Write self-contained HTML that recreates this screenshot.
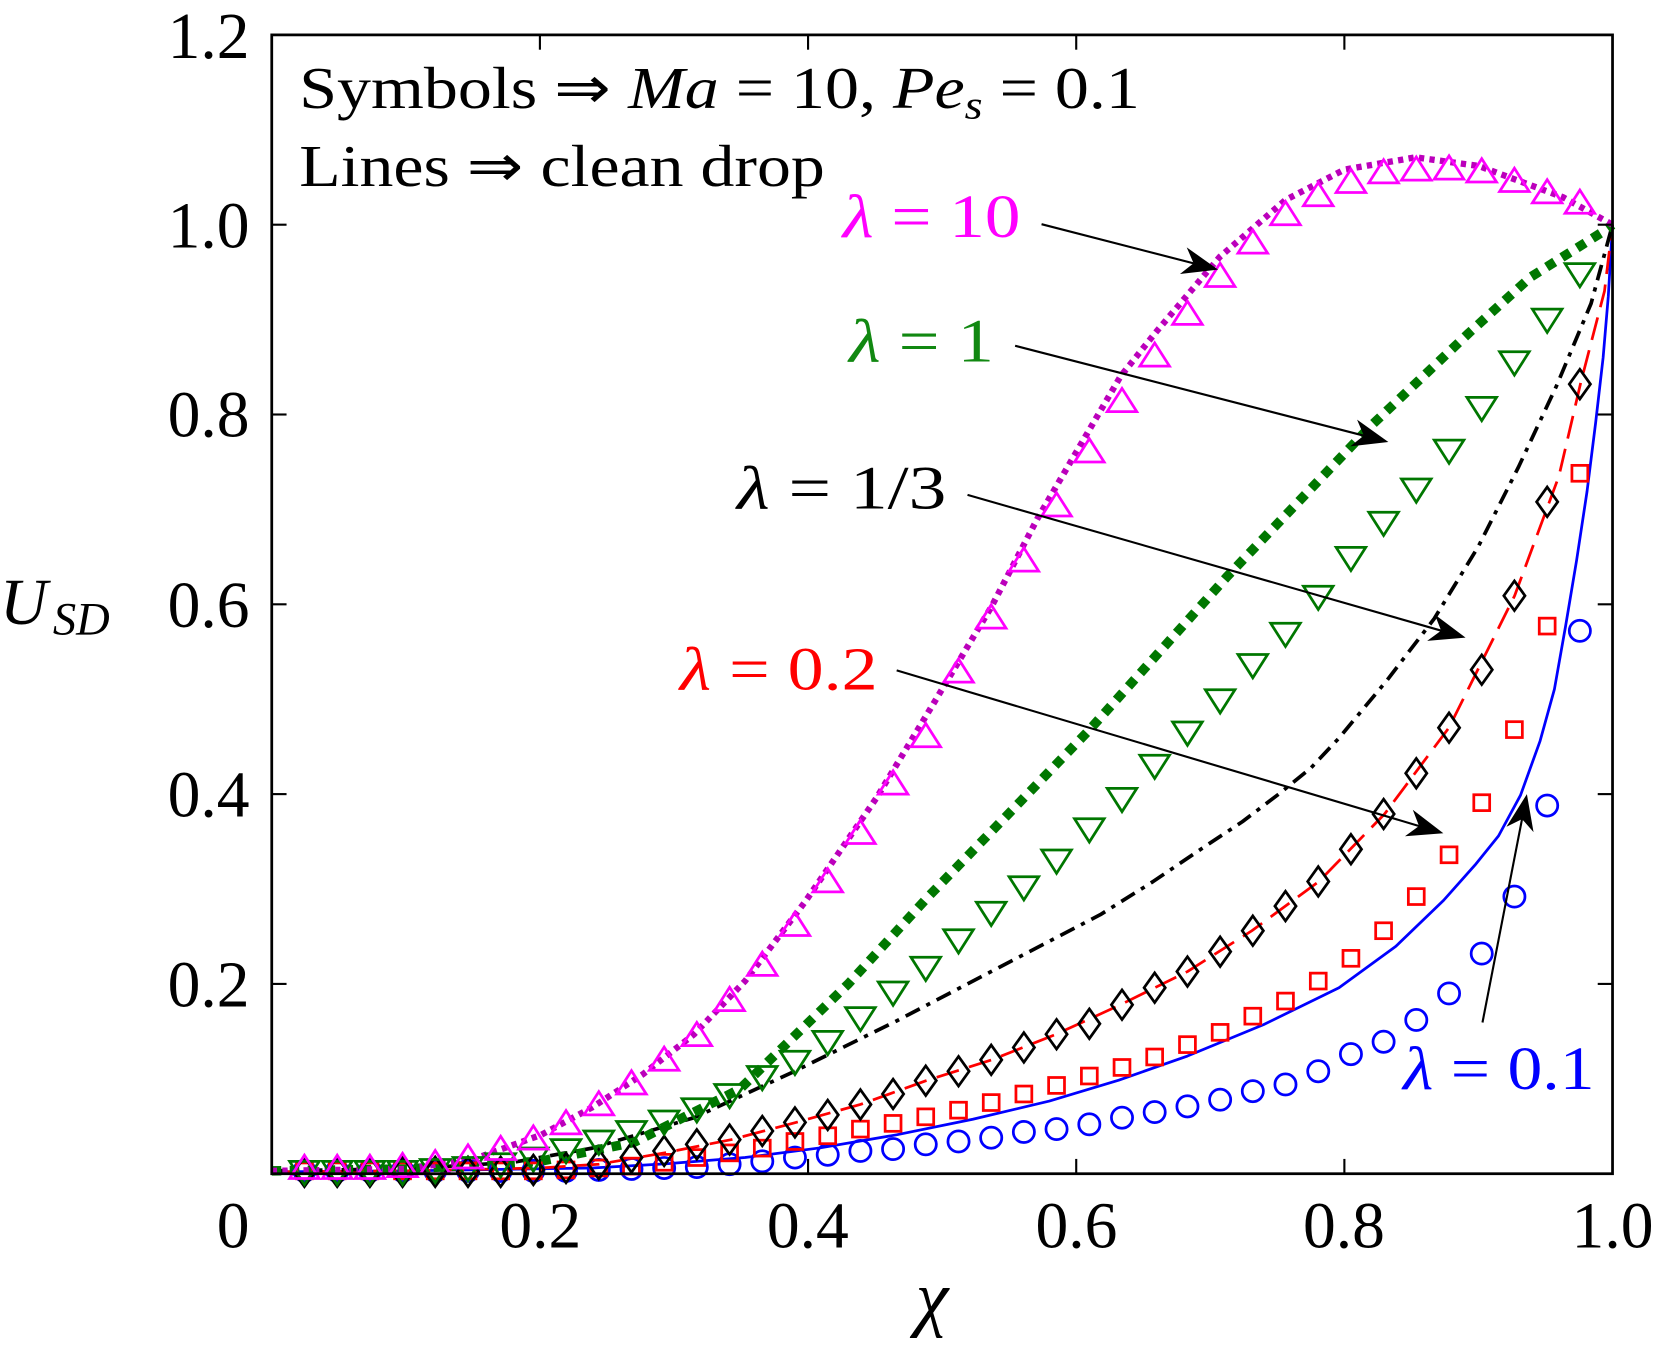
<!DOCTYPE html>
<html><head><meta charset="utf-8"><style>
html,body{margin:0;padding:0;background:#fff;}
svg{display:block;}
text{font-family:"Liberation Serif","Times New Roman",Times,serif;}
</style></head><body>
<svg width="1658" height="1352" viewBox="0 0 1568 1278.6" preserveAspectRatio="none" xmlns="http://www.w3.org/2000/svg" xmlns:xlink="http://www.w3.org/1999/xlink" font-family="'Liberation Serif','Times New Roman',Times,serif">
<defs>
<circle id="c" cx="0" cy="0" r="10" fill="none" stroke="#0000ff" stroke-width="2.6"/>
<rect id="q" x="-7.5" y="-7.5" width="15" height="15" fill="none" stroke="#ff0000" stroke-width="2.6"/>
<polygon id="d" points="0,-14 10,0 0,14 -10,0" fill="none" stroke="#000" stroke-width="2.6"/>
<polygon id="g" points="-14,-9 14,-9 0,13" fill="none" stroke="#007700" stroke-width="2.6"/>
<polygon id="m" points="-14,9 14,9 0,-13" fill="none" stroke="#ff00ff" stroke-width="2.6"/>
</defs>
<rect x="0" y="0" width="1568" height="1279" fill="#fff"/>
<g fill="none" stroke-linejoin="round">
<polyline stroke="#0000ff" stroke-width="2.6" points="257,1108.2 383.8,1107.3 560.1,1104.6 632,1100.5 704.6,1094.7 776,1085.5 847.9,1073.2 920,1058.5 992.4,1041.3 1058,1021.5 1123,998.7 1195,969 1266.3,934.1 1320,895 1365.2,851.5 1395,818 1417.2,790.5 1438,752 1456.5,700.7 1470,652 1480.6,592.1 1491,530 1500.9,464.7 1509,400 1516.1,338.2 1521,280 1525,212.5"/>
<polyline stroke="#ff0000" stroke-width="2.6" stroke-dasharray="22 10" points="257,1108.2 383.8,1107.3 510.6,1104.6 566.4,1101 628.5,1090.3 691.9,1077.7 752.8,1061.5 813.7,1044.5 875.8,1022 937.9,1002.3 998.8,978.1 1059.6,950.2 1123,918.8 1183.9,880.2 1247.3,833.6 1309.4,769.8 1370.3,688.2 1432.4,563.4 1474.3,450.3 1494.6,363.3 1517.4,275.3 1525,212.5"/>
<polyline stroke="#000" stroke-width="3.5" stroke-dasharray="15 7 4 7" points="257,1107.3 383.8,1105.5 485.2,1099.2 560.1,1085.8 656.4,1057 751.5,1013.1 847.9,965.5 944.3,915.2 1040.6,865 1090,834 1137,802.2 1175,777 1209.3,751 1240,726 1266.3,698 1312,643 1356.4,585 1398,517 1436.2,441.4 1472,365 1504.7,287 1525,212.5"/>
<polyline stroke="#007700" stroke-width="9" stroke-dasharray="9 8" points="257,1107.3 383.8,1105.5 510.6,1098.3 599.4,1080.4 699.5,1030.1 802.2,930.5 877.1,848.8 954.4,769 1030.5,690 1161.1,544.6 1295.5,403.7 1389.3,314.8 1447.7,261.9 1513.6,220.6 1525,212.5"/>
<polyline stroke="#bb00bb" stroke-width="6" stroke-dasharray="5 5" points="257,1107.3 383.8,1105.5 447.2,1096.5 511.9,1073.2 560.1,1047.2 608.2,1015.8 656.4,978.1 704.6,927.8 761.7,852.4 828.9,754.6 882.1,666.6 937.9,573.3 981,490.7 1059.6,356.1 1092.6,314.8 1153.5,243 1215.6,189.2 1271.4,160.4 1338.6,148.8 1398.2,156.9 1478.1,186.5 1525,212.5"/>
</g>
<g>
<use xlink:href="#c" x="287.9" y="1107.3"/><use xlink:href="#c" x="318.9" y="1107.3"/><use xlink:href="#c" x="349.8" y="1107.3"/><use xlink:href="#c" x="380.7" y="1107.3"/><use xlink:href="#c" x="411.6" y="1107.3"/><use xlink:href="#c" x="442.6" y="1107.3"/><use xlink:href="#c" x="473.5" y="1107.3"/><use xlink:href="#c" x="504.4" y="1107.3"/><use xlink:href="#c" x="535.3" y="1107.3"/><use xlink:href="#c" x="566.3" y="1106.4"/>
<use xlink:href="#c" x="597.2" y="1105.5"/><use xlink:href="#c" x="628.1" y="1104.6"/><use xlink:href="#c" x="659" y="1103.7"/><use xlink:href="#c" x="690" y="1101"/><use xlink:href="#c" x="720.9" y="1098.3"/><use xlink:href="#c" x="751.8" y="1094.7"/><use xlink:href="#c" x="782.8" y="1092.1"/><use xlink:href="#c" x="813.7" y="1088.5"/><use xlink:href="#c" x="844.6" y="1086.7"/><use xlink:href="#c" x="875.5" y="1082.2"/>
<use xlink:href="#c" x="906.5" y="1079.5"/><use xlink:href="#c" x="937.4" y="1075.9"/><use xlink:href="#c" x="968.3" y="1070.5"/><use xlink:href="#c" x="999.2" y="1067.8"/><use xlink:href="#c" x="1030.2" y="1063.3"/><use xlink:href="#c" x="1061.1" y="1057"/><use xlink:href="#c" x="1092" y="1051.7"/><use xlink:href="#c" x="1123" y="1046.3"/><use xlink:href="#c" x="1153.9" y="1040"/><use xlink:href="#c" x="1184.8" y="1031.9"/>
<use xlink:href="#c" x="1215.7" y="1025.6"/><use xlink:href="#c" x="1246.7" y="1013.1"/><use xlink:href="#c" x="1277.6" y="996.9"/><use xlink:href="#c" x="1308.5" y="985.2"/><use xlink:href="#c" x="1339.4" y="964.6"/><use xlink:href="#c" x="1370.4" y="939.5"/><use xlink:href="#c" x="1401.3" y="901.8"/><use xlink:href="#c" x="1432.2" y="847.9"/><use xlink:href="#c" x="1463.2" y="761.8"/><use xlink:href="#c" x="1494.1" y="596.6"/>
</g>
<g>
<use xlink:href="#q" x="287.9" y="1107.3"/><use xlink:href="#q" x="318.9" y="1107.3"/><use xlink:href="#q" x="349.8" y="1107.3"/><use xlink:href="#q" x="380.7" y="1107.3"/><use xlink:href="#q" x="411.6" y="1107.3"/><use xlink:href="#q" x="442.6" y="1107.3"/><use xlink:href="#q" x="473.5" y="1107.3"/><use xlink:href="#q" x="504.4" y="1107.3"/><use xlink:href="#q" x="535.3" y="1106.4"/><use xlink:href="#q" x="566.3" y="1104.6"/>
<use xlink:href="#q" x="597.2" y="1102.8"/><use xlink:href="#q" x="628.1" y="1099.2"/><use xlink:href="#q" x="659" y="1094.7"/><use xlink:href="#q" x="690" y="1090.3"/><use xlink:href="#q" x="720.9" y="1085.8"/><use xlink:href="#q" x="751.8" y="1079.5"/><use xlink:href="#q" x="782.8" y="1074.1"/><use xlink:href="#q" x="813.7" y="1067.8"/><use xlink:href="#q" x="844.6" y="1062.4"/><use xlink:href="#q" x="875.5" y="1056.2"/>
<use xlink:href="#q" x="906.5" y="1049.9"/><use xlink:href="#q" x="937.4" y="1042.7"/><use xlink:href="#q" x="968.3" y="1034.6"/><use xlink:href="#q" x="999.2" y="1026.5"/><use xlink:href="#q" x="1030.2" y="1017.6"/><use xlink:href="#q" x="1061.1" y="1009.5"/><use xlink:href="#q" x="1092" y="999.6"/><use xlink:href="#q" x="1123" y="987.9"/><use xlink:href="#q" x="1153.9" y="976.3"/><use xlink:href="#q" x="1184.8" y="961"/>
<use xlink:href="#q" x="1215.7" y="946.7"/><use xlink:href="#q" x="1246.7" y="927.8"/><use xlink:href="#q" x="1277.6" y="906.3"/><use xlink:href="#q" x="1308.5" y="880.2"/><use xlink:href="#q" x="1339.4" y="847.9"/><use xlink:href="#q" x="1370.4" y="808.4"/><use xlink:href="#q" x="1401.3" y="759.1"/><use xlink:href="#q" x="1432.2" y="690"/><use xlink:href="#q" x="1463.2" y="592.1"/><use xlink:href="#q" x="1494.1" y="447.6"/>
</g>
<g>
<use xlink:href="#d" x="287.9" y="1108.2"/><use xlink:href="#d" x="318.9" y="1108.2"/><use xlink:href="#d" x="349.8" y="1108.2"/><use xlink:href="#d" x="380.7" y="1108.2"/><use xlink:href="#d" x="411.6" y="1108.2"/><use xlink:href="#d" x="442.6" y="1108.2"/><use xlink:href="#d" x="473.5" y="1108.2"/><use xlink:href="#d" x="504.4" y="1106.4"/><use xlink:href="#d" x="535.3" y="1104.6"/><use xlink:href="#d" x="566.3" y="1101"/>
<use xlink:href="#d" x="597.2" y="1094.7"/><use xlink:href="#d" x="628.1" y="1088.5"/><use xlink:href="#d" x="659" y="1082.2"/><use xlink:href="#d" x="690" y="1077.7"/><use xlink:href="#d" x="720.9" y="1069.6"/><use xlink:href="#d" x="751.8" y="1061.5"/><use xlink:href="#d" x="782.8" y="1054.4"/><use xlink:href="#d" x="813.7" y="1044.5"/><use xlink:href="#d" x="844.6" y="1034.6"/><use xlink:href="#d" x="875.5" y="1022"/>
<use xlink:href="#d" x="906.5" y="1013.1"/><use xlink:href="#d" x="937.4" y="1002.3"/><use xlink:href="#d" x="968.3" y="990.6"/><use xlink:href="#d" x="999.2" y="978.1"/><use xlink:href="#d" x="1030.2" y="968.2"/><use xlink:href="#d" x="1061.1" y="950.2"/><use xlink:href="#d" x="1092" y="934.1"/><use xlink:href="#d" x="1123" y="918.8"/><use xlink:href="#d" x="1153.9" y="900"/><use xlink:href="#d" x="1184.8" y="880.2"/>
<use xlink:href="#d" x="1215.7" y="856.9"/><use xlink:href="#d" x="1246.7" y="833.6"/><use xlink:href="#d" x="1277.6" y="803.1"/><use xlink:href="#d" x="1308.5" y="769.8"/><use xlink:href="#d" x="1339.4" y="731.3"/><use xlink:href="#d" x="1370.4" y="688.2"/><use xlink:href="#d" x="1401.3" y="633.4"/><use xlink:href="#d" x="1432.2" y="563.4"/><use xlink:href="#d" x="1463.2" y="474.6"/><use xlink:href="#d" x="1494.1" y="363.3"/>
</g>
<g>
<use xlink:href="#g" x="287.9" y="1107.3"/><use xlink:href="#g" x="318.9" y="1107.3"/><use xlink:href="#g" x="349.8" y="1107.3"/><use xlink:href="#g" x="380.7" y="1107.3"/><use xlink:href="#g" x="411.6" y="1105.5"/><use xlink:href="#g" x="442.6" y="1103.7"/><use xlink:href="#g" x="473.5" y="1100.1"/><use xlink:href="#g" x="504.4" y="1094.7"/><use xlink:href="#g" x="535.3" y="1086.7"/><use xlink:href="#g" x="566.3" y="1078.6"/>
<use xlink:href="#g" x="597.2" y="1069.6"/><use xlink:href="#g" x="628.1" y="1059.7"/><use xlink:href="#g" x="659" y="1048.1"/><use xlink:href="#g" x="690" y="1034.6"/><use xlink:href="#g" x="720.9" y="1017.6"/><use xlink:href="#g" x="751.8" y="1003.2"/><use xlink:href="#g" x="782.8" y="984.4"/><use xlink:href="#g" x="813.7" y="961.9"/><use xlink:href="#g" x="844.6" y="937.7"/><use xlink:href="#g" x="875.5" y="914.3"/>
<use xlink:href="#g" x="906.5" y="888.3"/><use xlink:href="#g" x="937.4" y="862.3"/><use xlink:href="#g" x="968.3" y="838.1"/><use xlink:href="#g" x="999.2" y="812.9"/><use xlink:href="#g" x="1030.2" y="783.3"/><use xlink:href="#g" x="1061.1" y="754.6"/><use xlink:href="#g" x="1092" y="723.2"/><use xlink:href="#g" x="1123" y="691.8"/><use xlink:href="#g" x="1153.9" y="661.3"/><use xlink:href="#g" x="1184.8" y="628"/>
<use xlink:href="#g" x="1215.7" y="598.4"/><use xlink:href="#g" x="1246.7" y="563.4"/><use xlink:href="#g" x="1277.6" y="526.6"/><use xlink:href="#g" x="1308.5" y="493.4"/><use xlink:href="#g" x="1339.4" y="462"/><use xlink:href="#g" x="1370.4" y="425.2"/><use xlink:href="#g" x="1401.3" y="384.8"/><use xlink:href="#g" x="1432.2" y="341.7"/><use xlink:href="#g" x="1463.2" y="301.4"/><use xlink:href="#g" x="1494.1" y="258.3"/>
</g>
<g>
<use xlink:href="#m" x="287.9" y="1105.5"/><use xlink:href="#m" x="318.9" y="1105.5"/><use xlink:href="#m" x="349.8" y="1105.5"/><use xlink:href="#m" x="380.7" y="1103.7"/><use xlink:href="#m" x="411.6" y="1101"/><use xlink:href="#m" x="442.6" y="1095.6"/><use xlink:href="#m" x="473.5" y="1087.6"/><use xlink:href="#m" x="504.4" y="1077.7"/><use xlink:href="#m" x="535.3" y="1063.3"/><use xlink:href="#m" x="566.3" y="1045.4"/>
<use xlink:href="#m" x="597.2" y="1025.6"/><use xlink:href="#m" x="628.1" y="1003.2"/><use xlink:href="#m" x="659" y="979.9"/><use xlink:href="#m" x="690" y="946.7"/><use xlink:href="#m" x="720.9" y="913.4"/><use xlink:href="#m" x="751.8" y="875.7"/><use xlink:href="#m" x="782.8" y="834.5"/><use xlink:href="#m" x="813.7" y="788.7"/><use xlink:href="#m" x="844.6" y="742"/><use xlink:href="#m" x="875.5" y="697.2"/>
<use xlink:href="#m" x="906.5" y="636.1"/><use xlink:href="#m" x="937.4" y="585"/><use xlink:href="#m" x="968.3" y="531.1"/><use xlink:href="#m" x="999.2" y="479"/><use xlink:href="#m" x="1030.2" y="427.9"/><use xlink:href="#m" x="1061.1" y="380.3"/><use xlink:href="#m" x="1092" y="337.3"/><use xlink:href="#m" x="1123" y="297.8"/><use xlink:href="#m" x="1153.9" y="261.9"/><use xlink:href="#m" x="1184.8" y="230.4"/>
<use xlink:href="#m" x="1215.7" y="203.5"/><use xlink:href="#m" x="1246.7" y="185.6"/><use xlink:href="#m" x="1277.6" y="173"/><use xlink:href="#m" x="1308.5" y="164"/><use xlink:href="#m" x="1339.4" y="161.4"/><use xlink:href="#m" x="1370.4" y="160.4"/><use xlink:href="#m" x="1401.3" y="163.1"/><use xlink:href="#m" x="1432.2" y="172.1"/><use xlink:href="#m" x="1463.2" y="182.9"/><use xlink:href="#m" x="1494.1" y="192.7"/>
</g>
<rect x="257" y="33" width="1268" height="1077" fill="none" stroke="#000" stroke-width="2.6"/>
<g stroke="#000" stroke-width="2">
<line x1="510.6" y1="1110" x2="510.6" y2="1096"/><line x1="764.2" y1="1110" x2="764.2" y2="1096"/><line x1="1017.8" y1="1110" x2="1017.8" y2="1096"/><line x1="1271.4" y1="1110" x2="1271.4" y2="1096"/>
<line x1="510.6" y1="33" x2="510.6" y2="47"/><line x1="764.2" y1="33" x2="764.2" y2="47"/><line x1="1017.8" y1="33" x2="1017.8" y2="47"/><line x1="1271.4" y1="33" x2="1271.4" y2="47"/>
<line x1="257" y1="930.5" x2="271" y2="930.5"/><line x1="257" y1="751" x2="271" y2="751"/><line x1="257" y1="571.5" x2="271" y2="571.5"/><line x1="257" y1="392" x2="271" y2="392"/><line x1="257" y1="212.5" x2="271" y2="212.5"/>
<line x1="1525" y1="930.5" x2="1511" y2="930.5"/><line x1="1525" y1="751" x2="1511" y2="751"/><line x1="1525" y1="571.5" x2="1511" y2="571.5"/><line x1="1525" y1="392" x2="1511" y2="392"/><line x1="1525" y1="212.5" x2="1511" y2="212.5"/>
</g>
<g font-size="62" fill="#000">
<text x="236" y="55" text-anchor="end">1.2</text>
<text x="236" y="234" text-anchor="end">1.0</text>
<text x="236" y="413" text-anchor="end">0.8</text>
<text x="236" y="593" text-anchor="end">0.6</text>
<text x="236" y="772" text-anchor="end">0.4</text>
<text x="236" y="952" text-anchor="end">0.2</text>
<text x="236" y="1180" text-anchor="end">0</text>
<text x="511" y="1180" text-anchor="middle">0.2</text>
<text x="764" y="1180" text-anchor="middle">0.4</text>
<text x="1018" y="1180" text-anchor="middle">0.6</text>
<text x="1271" y="1180" text-anchor="middle">0.8</text>
<text x="1525" y="1180" text-anchor="middle">1.0</text>
</g>
<text x="0" y="590" font-size="62" font-style="italic">U</text>
<text x="50" y="600" font-size="44" font-style="italic">SD</text>
<text x="866" y="1250" font-size="70" font-style="italic">χ</text>
<text x="283" y="102" font-size="56" textLength="795" lengthAdjust="spacingAndGlyphs">Symbols ⇒ <tspan font-style="italic">Ma</tspan> = 10, <tspan font-style="italic">Pe<tspan font-size="38" dy="10">s</tspan></tspan><tspan dy="-10"> = 0.1</tspan></text>
<text x="283" y="176" font-size="56" textLength="497" lengthAdjust="spacingAndGlyphs">Lines ⇒ clean drop</text>
<text x="797" y="224" font-size="58" fill="#ff00ff" textLength="168" lengthAdjust="spacingAndGlyphs"><tspan font-style="italic">λ</tspan> = 10</text>
<text x="803" y="342" font-size="58" fill="#118811" textLength="137" lengthAdjust="spacingAndGlyphs"><tspan font-style="italic">λ</tspan> = 1</text>
<text x="697" y="481" font-size="58" fill="#000" textLength="198" lengthAdjust="spacingAndGlyphs"><tspan font-style="italic">λ</tspan> = 1/3</text>
<text x="643" y="652" font-size="58" fill="#ff0000" textLength="187" lengthAdjust="spacingAndGlyphs"><tspan font-style="italic">λ</tspan> = 0.2</text>
<text x="1327" y="1030" font-size="58" fill="#0000ff" textLength="181" lengthAdjust="spacingAndGlyphs"><tspan font-style="italic">λ</tspan> = 0.1</text>
<g stroke="#000" stroke-width="2">
<line x1="985" y1="212" x2="1132.6" y2="250"/>
<line x1="960" y1="327" x2="1293.6" y2="413"/>
<line x1="915" y1="468" x2="1366.8" y2="597.5"/>
<line x1="848" y1="634" x2="1345.8" y2="782.3"/>
<line x1="1402" y1="967" x2="1440.2" y2="770.6"/>
</g>
<g fill="#000">
<polygon points="1152,255 1115.9,259.1 1128.8,249 1122.3,233.9"/>
<polygon points="1313,418 1276.9,422.1 1289.8,412 1283.4,396.9"/>
<polygon points="1386,603 1349.7,606.1 1362.9,596.4 1356.9,581.1"/>
<polygon points="1365,788 1328.7,790.8 1342,781.1 1336.1,765.8"/>
<polygon points="1444,751 1450.3,786.9 1439.4,774.6 1424.7,781.9"/>
</g>
</svg>
</body></html>
